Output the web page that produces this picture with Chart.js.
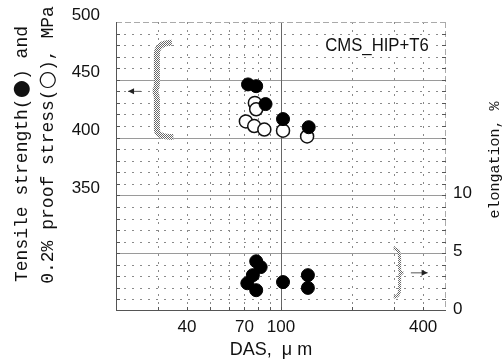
<!DOCTYPE html>
<html>
<head>
<meta charset="utf-8">
<script src="https://cdn.jsdelivr.net/npm/chart.js@4"></script>
<style>
  html, body { margin: 0; padding: 0; background: #fff; }
  #wrap { width: 504px; height: 363px; }
</style>
</head>
<body>
<div id="wrap"><canvas id="chart" width="504" height="363"></canvas></div>
<script>
// DAS axis (log)
const dasTicks = [40, 70, 100, 400];
const dasGrid = [30, 40, 50, 60, 70, 80, 90, 200, 300, 400];
const stressTicks = [350, 400, 450, 500];
const elongTicks = [0, 5, 10];

// tensile strength (filled), MPa
const tensileDas = [72.5, 78.5, 86, 102, 131];
const tensileMPa = [446, 444.5, 429, 416, 409];
// 0.2% proof stress (open), MPa
const proofDas = [77.5, 78.5, 71, 77, 85, 102, 129];
const proofMPa = [430, 424.5, 414, 410, 407, 406, 401];
// elongation (filled), %
const elongDas = [78.5, 82, 76, 72, 78.5, 102, 130, 130];
const elongPct = [4.3, 3.8, 3.1, 2.4, 1.8, 2.5, 3.1, 2.0];

const txt = '#111';
const tickFont = { family: 'Liberation Sans, Arial, sans-serif', size: 17 };
const monoFont = '18px "Liberation Mono", "DejaVu Sans Mono", monospace';
const symFont = '21px "DejaVu Sans", sans-serif';

function pts(xs, ys) {
  return xs.map((x, i) => ({ x: x, y: ys[i] }));
}

function line(ctx, x1, y1, x2, y2) {
  ctx.beginPath();
  ctx.moveTo(x1, y1);
  ctx.lineTo(x2, y2);
  ctx.stroke();
}

// fixed axis box, no extra padding for end labels
function fixBox(w, h) {
  return s => {
    if (w) s.width = w;
    if (h) s.height = h;
    s.paddingTop = 0; s.paddingBottom = 0;
    s.paddingLeft = 0; s.paddingRight = 0;
  };
}

// draw a rotated line of text made of runs with their own fonts
function vText(ctx, runs, cx, cy) {
  ctx.save();
  ctx.translate(cx, cy);
  ctx.rotate(-Math.PI / 2);
  ctx.textAlign = 'left';
  ctx.textBaseline = 'middle';
  let total = 0;
  runs.forEach(r => { ctx.font = r[1]; total += ctx.measureText(r[0]).width; });
  let x = -total / 2;
  runs.forEach(r => {
    ctx.font = r[1];
    ctx.fillText(r[0], x, 0);
    x += ctx.measureText(r[0]).width;
  });
  ctx.restore();
}

const gridPlugin = {
  id: 'grid',
  beforeDatasetsDraw(chart) {
    const { ctx, chartArea: ca } = chart;
    const xs = chart.scales.x, ys = chart.scales.y;
    ctx.save();
    ctx.lineWidth = 1;
    // dotted lines
    ctx.strokeStyle = '#8a8a8a';
    ctx.setLineDash([2, 6]);
    for (let v = 260; v < 500; v += 10) {
      if (v % 50 === 0) continue;
      const y = Math.round(ys.getPixelForValue(v)) + 0.5;
      line(ctx, ca.left, y, ca.right, y);
    }
    dasGrid.forEach(v => {
      const x = Math.round(xs.getPixelForValue(v)) + 0.5;
      line(ctx, x, ca.top, x, ca.bottom);
    });
    // solid lines
    ctx.setLineDash([]);
    ctx.strokeStyle = '#9a9a9a';
    [300, 350, 400, 450].forEach(v => {
      const y = Math.round(ys.getPixelForValue(v)) + 0.5;
      line(ctx, ca.left, y, ca.right, y);
    });
    const x100 = Math.round(xs.getPixelForValue(100)) + 0.5;
    ctx.strokeStyle = '#666';
    line(ctx, x100, ca.top, x100, ca.bottom);
    // frame
    ctx.strokeStyle = '#aaa';
    ctx.setLineDash([6, 3]);
    line(ctx, ca.left, ca.top + 0.5, ca.right, ca.top + 0.5);
    line(ctx, ca.right - 0.5, ca.top, ca.right - 0.5, ca.bottom);
    ctx.setLineDash([]);
    ctx.strokeStyle = '#555';
    line(ctx, ca.left + 0.5, ca.top, ca.left + 0.5, ca.bottom);
    line(ctx, ca.left, ca.bottom - 0.5, ca.right, ca.bottom - 0.5);
    // inner tick marks
    for (let v = 260; v < 500; v += 10) {
      const y = Math.round(ys.getPixelForValue(v)) + 0.5;
      line(ctx, ca.left, y, ca.left + 4, y);
      line(ctx, ca.right - 4, y, ca.right, y);
    }
    dasGrid.concat([100]).forEach(v => {
      const x = Math.round(xs.getPixelForValue(v)) + 0.5;
      line(ctx, x, ca.bottom - 4, x, ca.bottom);
    });
    ctx.restore();
  }
};

function stipple(ctx) {
  const c = document.createElement('canvas');
  c.width = 2; c.height = 2;
  const p = c.getContext('2d');
  p.fillStyle = '#fff';
  p.fillRect(0, 0, 2, 2);
  p.fillStyle = '#666';
  p.fillRect(0, 0, 1, 1);
  p.fillRect(1, 1, 1, 1);
  return ctx.createPattern(c, 'repeat');
}

function arrow(ctx, x1, x2, y) {
  ctx.beginPath();
  ctx.moveTo(x1, y);
  ctx.lineTo(x2, y);
  ctx.stroke();
  const d = x2 > x1 ? 1 : -1;
  ctx.beginPath();
  ctx.moveTo(x2, y);
  ctx.lineTo(x2 - d * 6, y - 3);
  ctx.lineTo(x2 - d * 6, y + 3);
  ctx.closePath();
  ctx.fill();
}

const notePlugin = {
  id: 'notes',
  afterDatasetsDraw(chart) {
    const { ctx, chartArea: ca } = chart;
    const xs = chart.scales.x, ys = chart.scales.y, ye = chart.scales.y2;
    const X = v => xs.getPixelForValue(v);
    const Y = v => ys.getPixelForValue(v);
    const E = v => ye.getPixelForValue(v);
    ctx.save();
    // left bracket: strength axis
    ctx.strokeStyle = stipple(ctx);
    ctx.lineWidth = 6;
    ctx.beginPath();
    ctx.moveTo(X(34.5), Y(482));
    ctx.quadraticCurveTo(X(29.8), Y(482), X(29.8), Y(472));
    ctx.lineTo(X(29.8), Y(447));
    ctx.quadraticCurveTo(X(29.8), Y(440), X(28.6), Y(440));
    ctx.quadraticCurveTo(X(29.8), Y(440), X(29.8), Y(433));
    ctx.lineTo(X(29.8), Y(407));
    ctx.quadraticCurveTo(X(29.8), Y(400.5), X(35), Y(400.5));
    ctx.stroke();
    // right bracket: elongation axis
    ctx.lineWidth = 3;
    ctx.beginPath();
    ctx.moveTo(X(300), E(5.4));
    ctx.quadraticCurveTo(X(318), E(5.4), X(318), E(4.6));
    ctx.lineTo(X(318), E(3.6));
    ctx.quadraticCurveTo(X(318), E(3.3), X(330), E(3.3));
    ctx.quadraticCurveTo(X(318), E(3.3), X(318), E(3.0));
    ctx.lineTo(X(318), E(1.9));
    ctx.quadraticCurveTo(X(318), E(1.2), X(300), E(1.2));
    ctx.stroke();
    // arrows
    ctx.strokeStyle = '#555';
    ctx.fillStyle = '#222';
    ctx.lineWidth = 1;
    arrow(ctx, X(25.5), X(22.5), Y(440));
    arrow(ctx, X(355), X(418), E(3.3));
    // label
    ctx.font = '19px "Liberation Sans", Arial, sans-serif';
    ctx.textAlign = 'center';
    ctx.textBaseline = 'middle';
    const label = 'CMS_HIP+T6';
    const cx = ca.right - 69, cy = ca.top + 24;
    const w = ctx.measureText(label).width * 0.88;
    ctx.fillStyle = '#fff';
    ctx.fillRect(cx - w / 2 - 3, cy - 11, w + 6, 22);
    ctx.fillStyle = txt;
    ctx.save();
    ctx.translate(cx, cy);
    ctx.scale(0.88, 1);
    ctx.fillText(label, 0, 0);
    ctx.restore();
    ctx.restore();
  },
  afterDraw(chart) {
    const { ctx } = chart;
    ctx.save();
    ctx.fillStyle = txt;
    // left title, two lines
    vText(ctx, [['Tensile strength(', monoFont], ['●', symFont], [') and', monoFont]], 22, 154);
    vText(ctx, [['0.2% proof stress(', monoFont], ['○', symFont], ['), MPa', monoFont]], 48, 145);
    // right title
    vText(ctx, [['elongation, %', '15px "Liberation Mono", "DejaVu Sans Mono", monospace']], 495, 160);
    // x title
    ctx.textAlign = 'center';
    ctx.textBaseline = 'middle';
    ctx.font = '18px "Liberation Sans", Arial, sans-serif';
    ctx.fillText('DAS,  μ m', 271, 350);
    ctx.restore();
  }
};

const filled = { pointRadius: 6.5, pointBackgroundColor: '#000', pointBorderColor: '#000', pointBorderWidth: 1, showLine: false };

new Chart(document.getElementById('chart'), {
  type: 'scatter',
  data: {
    datasets: [
      Object.assign({ label: 'Tensile strength', data: pts(tensileDas, tensileMPa), yAxisID: 'y' }, filled),
      Object.assign({ label: 'Elongation', data: pts(elongDas, elongPct), yAxisID: 'y2' }, filled),
      { label: '0.2% proof stress', data: pts(proofDas, proofMPa), yAxisID: 'y',
        pointRadius: 6.5, pointBackgroundColor: '#fff', pointBorderColor: '#111', pointBorderWidth: 1.5, showLine: false }
    ]
  },
  options: {
    responsive: false,
    animation: false,
    layout: { padding: { top: 22, left: 0, right: 0, bottom: 0 } },
    plugins: { legend: { display: false }, tooltip: { enabled: false } },
    scales: {
      x: {
        type: 'logarithmic', min: 20, max: 500,
        afterBuildTicks: s => { s.ticks = dasTicks.map(v => ({ value: v })); },
        afterFit: fixBox(0, 52),
        grid: { display: false, drawTicks: false },
        border: { display: false },
        ticks: { autoSkip: false, maxRotation: 0, padding: 6, color: txt, font: tickFont, callback: v => String(v) }
      },
      y: {
        position: 'left', min: 250, max: 500,
        afterBuildTicks: s => { s.ticks = stressTicks.map(v => ({ value: v })); },
        afterFit: fixBox(116, 0),
        grid: { display: false, drawTicks: false },
        border: { display: false },
        ticks: { padding: 16, labelOffset: -7, color: txt, font: tickFont }
      },
      y2: {
        position: 'right', min: 0, max: 25,
        afterBuildTicks: s => { s.ticks = elongTicks.map(v => ({ value: v })); },
        afterFit: fixBox(58, 0),
        grid: { display: false, drawTicks: false },
        border: { display: false },
        ticks: { padding: 7, labelOffset: -2, color: txt, font: tickFont }
      }
    }
  },
  plugins: [gridPlugin, notePlugin]
});
</script>
</body>
</html>
